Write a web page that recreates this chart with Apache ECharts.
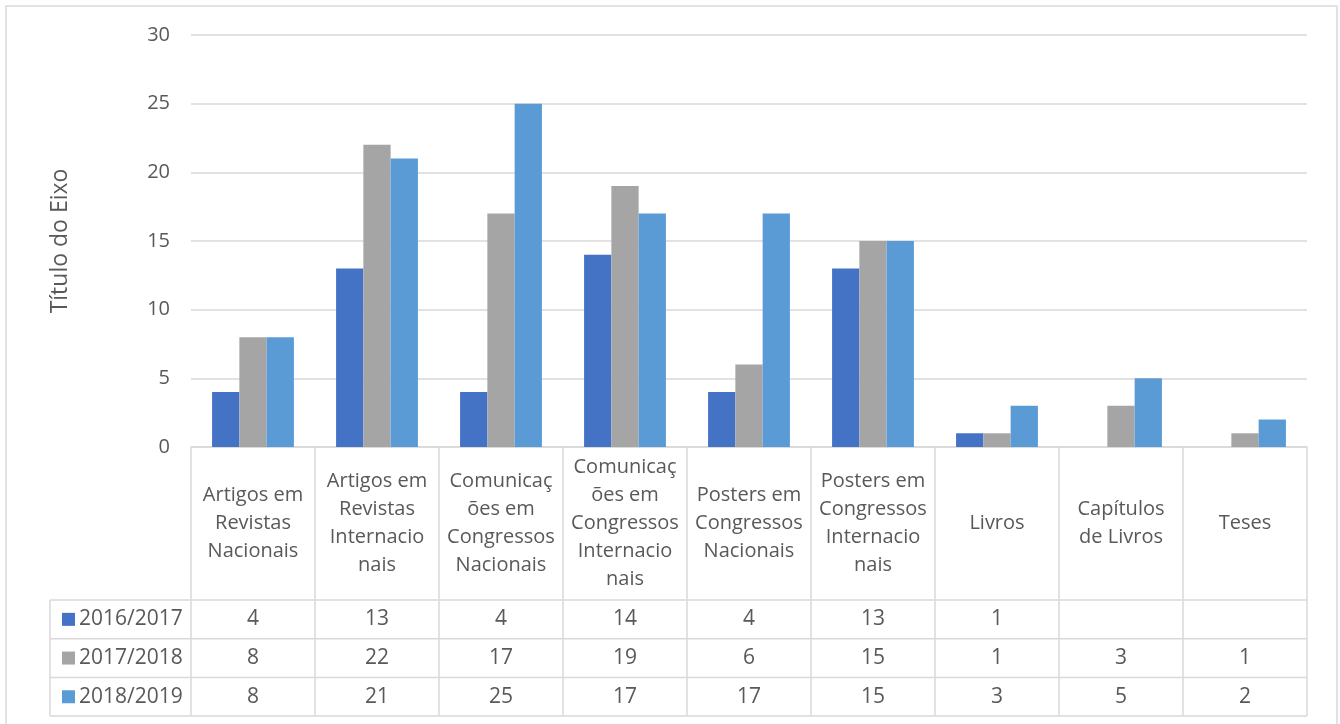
<!DOCTYPE html>
<html>
<head>
<meta charset="utf-8">
<script src="https://cdn.jsdelivr.net/npm/echarts@6/dist/echarts.min.js"></script>
<style>
html,body{margin:0;padding:0;background:#fff;}
#c{width:1340px;height:724px;}
</style>
</head>
<body>
<div id="c"></div>
<script>
const categories = [
  "Artigos em\nRevistas\nNacionais",
  "Artigos em\nRevistas\nInternacio\nnais",
  "Comunicaç\nões em\nCongressos\nNacionais",
  "Comunicaç\nões em\nCongressos\nInternacio\nnais",
  "Posters em\nCongressos\nNacionais",
  "Posters em\nCongressos\nInternacio\nnais",
  "Livros",
  "Capítulos\nde Livros",
  "Teses"
];
const seriesNames = ["2016/2017", "2017/2018", "2018/2019"];
const s2016 = [4, 13, 4, 14, 4, 13, 1, null, null];
const s2017 = [8, 22, 17, 19, 6, 15, 1, 3, 1];
const s2018 = [8, 21, 25, 17, 17, 15, 3, 5, 2];
const yTicks = [0, 5, 10, 15, 20, 25, 30];

const seriesData = [s2016, s2017, s2018];
const colors = ["#4472C4", "#A5A5A5", "#5B9BD5"];
const FONT = "'Open Sans', sans-serif";
const TXT = "#595959";
const LINE = "#d9d9d9";

const chart = echarts.init(document.getElementById('c'));
chart.setOption({
  animation: false,
  backgroundColor: '#fff',
  grid: {left: 191, right: 33, top: 35, bottom: 277},
  xAxis: {
    type: 'category',
    data: categories,
    axisLine: {lineStyle: {color: LINE, width: 1.5}},
    axisTick: {show: false},
    axisLabel: {show: false}
  },
  yAxis: {
    type: 'value',
    min: yTicks[0], max: yTicks[yTicks.length - 1], interval: 5,
    name: 'Título do Eixo',
    nameLocation: 'middle',
    nameGap: 119,
    nameTextStyle: {fontFamily: FONT, fontSize: 23, color: TXT},
    axisLine: {show: false},
    axisTick: {show: false},
    axisLabel: {fontFamily: FONT, fontSize: 20, color: TXT, margin: 21},
    splitLine: {lineStyle: {color: LINE, width: 1.5}}
  },
  series: seriesData.map((d, i) => ({
    name: seriesNames[i],
    type: 'bar',
    data: d,
    barGap: '0%',
    barCategoryGap: '34%',
    itemStyle: {color: colors[i]}
  }))
});

function drawTable() {
  const n = categories.length;
  const c0 = chart.convertToPixel({xAxisIndex: 0}, 0);
  const c1 = chart.convertToPixel({xAxisIndex: 0}, 1);
  const band = c1 - c0;
  const left = c0 - band / 2;
  const right = left + band * n;
  const y0 = chart.convertToPixel({yAxisIndex: 0}, 0);
  const headerH = 153;
  const rowH = 38.7;
  const tableLeft = 50;
  const els = [];
  const lineStyle = {stroke: LINE, lineWidth: 1.5};
  els.push({type: 'rect', shape: {x: 6, y: 6, width: 1331, height: 740},
    style: {fill: null, stroke: LINE, lineWidth: 1.5}});
  for (let i = 0; i <= n; i++) {
    const x = left + band * i;
    els.push({type: 'line', shape: {x1: x, y1: y0, x2: x, y2: y0 + headerH + rowH * 3}, style: lineStyle});
  }
  els.push({type: 'line', shape: {x1: tableLeft, y1: y0 + headerH, x2: tableLeft, y2: y0 + headerH + rowH * 3}, style: lineStyle});
  for (let r = 0; r <= 3; r++) {
    const y = y0 + headerH + rowH * r;
    els.push({type: 'line', shape: {x1: tableLeft, y1: y, x2: right, y2: y}, style: lineStyle});
  }
  for (let i = 0; i < n; i++) {
    els.push({type: 'text', x: left + band * (i + 0.5), y: y0 + headerH / 2,
      style: {text: categories[i], fill: TXT, font: "20px " + FONT, align: 'center', verticalAlign: 'middle', lineHeight: 28}});
  }
  for (let r = 0; r < 3; r++) {
    const yc = y0 + headerH + rowH * (r + 0.5);
    els.push({type: 'rect', shape: {x: 62, y: yc - 6.5, width: 13, height: 13}, style: {fill: colors[r]}});
    els.push({type: 'text', x: 79, y: yc,
      style: {text: seriesNames[r], fill: TXT, font: "21px " + FONT, align: 'left', verticalAlign: 'middle'}});
    for (let i = 0; i < n; i++) {
      const v = seriesData[r][i];
      if (v === null || v === undefined) continue;
      els.push({type: 'text', x: left + band * (i + 0.5), y: yc,
        style: {text: String(v), fill: TXT, font: "21px " + FONT, align: 'center', verticalAlign: 'middle'}});
    }
  }
  chart.setOption({graphic: els.map(e => Object.assign({silent: true}, e))});
}
drawTable();
</script>
</body>
</html>
